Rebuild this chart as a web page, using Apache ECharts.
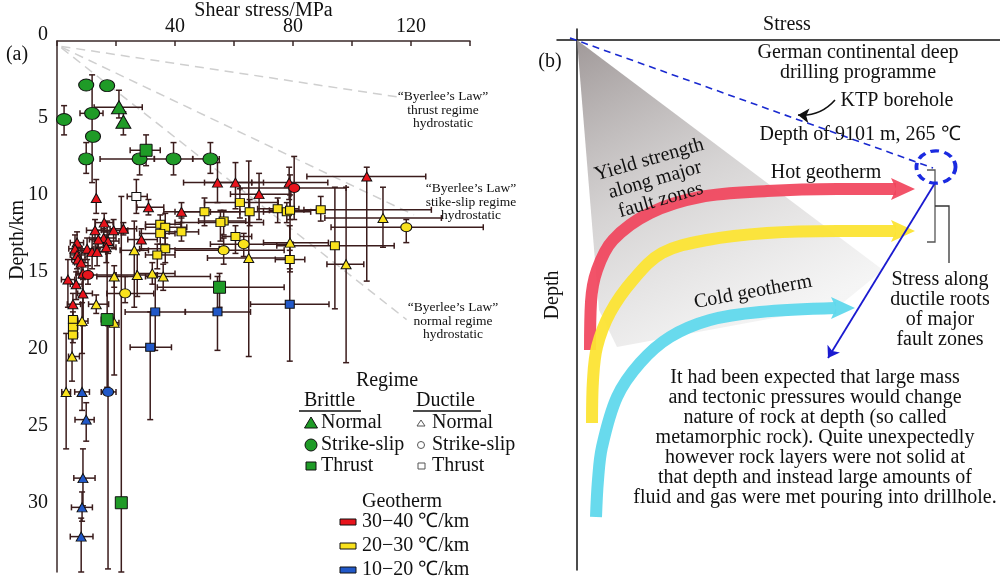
<!DOCTYPE html>
<html><head><meta charset="utf-8">
<script src="https://cdn.jsdelivr.net/npm/echarts@6/dist/echarts.min.js"></script>
<style>html,body{margin:0;padding:0;background:#fff}#c{width:1000px;height:579px}</style>
</head><body><div id="c"></div>
<script>
// ================= DATA (panel a) =================
// each row: [shear stress MPa, depth km, stressLo, stressHi, depthLo, depthHi]
const xTickLabels = [40, 80, 120];
const depthTickLabels = [5, 10, 15, 20, 25, 30];

const brittleNormal = [
  [21, 4.3, 12.6, 28.9, 3.2, 5.0],
  [22.5, 5.25, null, null, 4.6, 6.1]
];
const brittleStrikeSlip = [
  [9.9, 2.86, null, null, null, null],
  [17, 2.9, null, null, null, null],
  [2.4, 5.1, null, null, 4.2, 6.1],
  [11.9, 4.7, 7.8, 15.6, 2.2, 9.2],
  [12.2, 6.2, null, null, null, null],
  [9.9, 7.66, null, null, 6.6, 8.6],
  [28, 7.66, 14.6, 33, 7.4, 8.7],
  [39.5, 7.66, 33, 46, 6.6, 8.7],
  [52, 7.66, 46, 55, 6.6, 8.6]
];
const brittleThrust = [
  [30.2, 7.1, 24.8, 35, 6.1, 8.1],
  [55.1, 16.0, 34, 77, 15.1, 17.3],
  [17, 18.1, 15, 19, 11.7, 22.5],
  [21.8, 30.0, null, null, 10.1, 34.5]
];
const ductileNormalHot = [
  [54.4, 9.2, 42.9, 66, 7.9, 10.5], [60.5, 9.2, 50, 70, 7.9, 10.9],
  [78.7, 9.2, 66, 91.8, 8.2, 10.3], [105, 8.8, 84.7, 125, 8.2, 15.6],
  [68.5, 9.95, 58.8, 79.3, 8.6, 11.6], [13.3, 10.2, null, null, 9.0, 11.2],
  [31, 10.8, 27.1, 36.2, 10.3, 11.3], [42.2, 11.1, 36.2, 50.9, 10.5, 11.8],
  [16, 11.8, 13, 19, 11.2, 12.4], [12.9, 12.3, 10, 16, 11.6, 13],
  [19.2, 12.3, 15, 24, 11.6, 13.5], [22.5, 12.2, 18, 27, 11.8, 12.6],
  [15.8, 12.8, 12, 20, 12.2, 13.4], [14, 12.9, 11, 17, 12.3, 13.5],
  [17.3, 13, 14, 21, 12.4, 13.8], [28.6, 12.9, 24, 34, 12.2, 13.6],
  [6.8, 13.1, 4.5, 9, 12.4, 14], [16.7, 13.4, 13, 20, 12.6, 14.4],
  [10.2, 13.5, 8, 12.5, 12.8, 14.2], [11.9, 13.7, 9.5, 14.5, 12.8, 14.8],
  [13.6, 13.7, 11, 16.5, 13, 14.6], [6.1, 13.5, 4, 8.5, 12.6, 14.4],
  [6.8, 13.9, 4.5, 9.5, 13.2, 14.8], [7.1, 14.2, 5, 9.5, 13.4, 15.2],
  [8.2, 14.4, 6, 10.5, 13.6, 15.4], [8.8, 15.1, 6.5, 11, 14.2, 18.3],
  [3.7, 15.5, 1.5, 6, 14.2, 17.3], [6.5, 15.8, 4.5, 8.5, 15, 16.8],
  [8.8, 16.4, 7, 12, 15.5, 18.5], [5.4, 17.1, 3.5, 8, 16.4, 18]
];
const ductileStrikeHot = [
  [80.4, 9.55, 62, 98, 7.5, 11.6],
  [10.5, 15.2, 8, 20, 14.6, 15.8]
];
const ductileThrustWarm = [
  [62, 10.5, 50, 75, 9.6, 11.5], [50, 11.1, 40, 62, 10.2, 12],
  [65.3, 11.1, 52, 78, 10.3, 12], [74.8, 10.9, 68, 82, 10.2, 11.8],
  [77.9, 11.1, 70, 86, 10.5, 11.8], [79, 11, 72, 88, 10, 11.6],
  [89.4, 10.97, 83.7, 126.9, 10.1, 11.7], [56.5, 11.7, 48, 64, 11, 12.6],
  [55.4, 11.8, 40, 70, 11, 13], [60.5, 12.7, 56, 66, 12, 13.8],
  [94.2, 13.3, 74.5, 114.3, 9.5, 17.4], [78.9, 14.2, 74, 84, 13.6, 14.8],
  [35, 11.9, 30, 42, 11.3, 12.5], [36.7, 12.1, 30, 44, 11.2, 13.2],
  [35, 12.5, 28, 40, 12, 13.2], [42.2, 12.4, 38, 48, 11.5, 13],
  [36.7, 13.5, 28, 55, 12.8, 14.4], [34, 13.9, 30, 40, 13.2, 14.8],
  [5.4, 18.1, 4, 7, 17.6, 18.6], [5.4, 18.6, 4, 7, 18.2, 19],
  [5.4, 19.1, 4, 7, 18.6, 19.6]
];
const ductileStrikeWarm = [
  [118.4, 12.1, 92.9, 144.5, 11.6, 13.1], [56.5, 13.6, 40, 77, 12.8, 14.5],
  [63.3, 13.2, 52, 80, 12.5, 14], [23.1, 16.4, 16.9, 32.8, 15.3, 17]
];
const ductileNormalWarm = [
  [110.5, 11.5, 90.8, 130.3, 9.5, 13.4], [79, 13.1, 70, 92, 8.7, 15],
  [65, 14.1, 51, 77.6, 7.8, 20.5], [98, 14.5, 91.5, 104, 9.5, 20.9],
  [26.2, 13.6, 21.4, 31, 11.7, 17.3], [19.4, 15.3, 13.5, 27, 14.6, 16],
  [27.2, 15.2, 20, 34, 13.6, 16.6], [32.3, 15.1, 27, 40, 14.4, 15.8],
  [36, 15.3, 30, 52, 14.5, 16.2], [13.3, 17.1, 10.7, 17.5, 16.5, 17.7],
  [8.5, 18.2, 7, 10.5, 17, 20.3], [19.4, 18.3, 18, 21, 15.4, 21.7],
  [5.1, 20.5, 3.9, 7.6, 19.1, 22.1], [3.1, 22.8, 1.6, 4.6, 19, 26.5]
];
const ductileThrustCold = [
  [33.3, 17.6, 23.1, 43.5, 15.1, 20.1], [54.4, 17.6, 43.5, 65.6, 15.3, 20.1],
  [78.9, 17.1, 65.6, 92.2, 12, 20.8], [31.6, 19.9, 24.8, 38.8, 17.6, 24.6]
];
const ductileNormalCold = [
  [8.5, 22.8, 6, 11, 18.3, 24], [9.9, 24.6, 6.1, 12.6, 23.5, 26],
  [8.8, 28.4, 5.7, 12.9, 26.5, 30.2], [8.5, 30.3, 4.9, 12, 29.3, 31.2],
  [8.2, 32.2, 4.5, 12.2, 31, 34.5]
];
const ductileStrikeCold = [[17.3, 22.8, 15, 20, 18.5, 34.3]];
const ductileThrustNone = [[26.9, 10.1, 23.8, 30.6, 9.0, 11.2]];

// Byerlee's law reference lines [stress, depth]
const byerleeThrust = [[1.5, 0.35], [116, 3.65]];
const byerleeStrike = [[1.5, 0.4], [121, 11.3]];
const byerleeNormal = [[1.5, 0.45], [118.5, 18.1]];

// ================= DATA (panel b, schematic units) =================
const fanPoly = [[0, 0], [306, 230], [262, 266], [40, 307], [22, 270]];
const hotCurve = [[13, 310], [14, 262], [20, 230], [36, 200], [73, 173], [123, 157], [190, 151], [260, 149], [319, 149]];
const hotTip = [338, 149];
const warmCurve = [[15, 383], [16, 340], [20, 307], [33, 273], [56, 240], [85, 213], [130, 200], [190, 193], [260, 191], [319, 191]];
const warmTip = [338, 191];
const coldCurve = [[19, 477], [21, 440], [25, 407], [40, 357], [63, 323], [93, 297], [133, 280], [183, 272], [259, 268]];
const coldTip = [278, 268];
const ktpDashed = [[-7, -2], [356, 128]];
const ktpCircle = [359, 127];
const bracketA = [[350, 130], [358, 130], [358, 202], [350, 202]];
const bracketB = [[358, 166], [372, 166], [372, 223]];
const blueArrow = [[358, 143], [251, 318]];
const ktpArrow = [[258, 60], [221, 75]];

// ================= STYLE =================
const SERIF = '"Liberation Serif","Times New Roman",serif';
const AX = '#3a2828';
const ERR = '#3b1c1c';
const COL = { red: '#e8141c', yellow: '#f9e21c', blue: '#2158c8', green: '#1f9b27' };

const errRows = [].concat(brittleNormal, brittleStrikeSlip, brittleThrust, ductileNormalHot,
  ductileStrikeHot, ductileThrustWarm, ductileStrikeWarm, ductileNormalWarm, ductileThrustCold,
  ductileNormalCold, ductileStrikeCold, ductileThrustNone);

function renderErr(params, api) {
  const r = errRows[params.dataIndex];
  const kids = [];
  const st = { stroke: ERR, lineWidth: 1.5 };
  const cap = 3;
  if (r[2] != null) {
    const a = api.coord([r[2], r[1]]), b = api.coord([r[3], r[1]]);
    kids.push({ type: 'line', shape: { x1: a[0], y1: a[1], x2: b[0], y2: b[1] }, style: st });
    kids.push({ type: 'line', shape: { x1: a[0], y1: a[1] - cap, x2: a[0], y2: a[1] + cap }, style: st });
    kids.push({ type: 'line', shape: { x1: b[0], y1: b[1] - cap, x2: b[0], y2: b[1] + cap }, style: st });
  }
  if (r[4] != null) {
    const a = api.coord([r[0], r[4]]), b = api.coord([r[0], r[5]]);
    kids.push({ type: 'line', shape: { x1: a[0], y1: a[1], x2: b[0], y2: b[1] }, style: st });
    kids.push({ type: 'line', shape: { x1: a[0] - cap, y1: a[1], x2: a[0] + cap, y2: a[1] }, style: st });
    kids.push({ type: 'line', shape: { x1: b[0] - cap, y1: b[1], x2: b[0] + cap, y2: b[1] }, style: st });
  }
  return { type: 'group', children: kids };
}

const xy = arr => arr.map(r => [r[0], r[1]]);
function sc(arr, symbol, size, color, z) {
  return { type: 'scatter', xAxisIndex: 0, yAxisIndex: 0, data: xy(arr), symbol: symbol, symbolSize: size,
    itemStyle: { color: color, borderColor: '#111', borderWidth: 1, opacity: 1 }, z: z, silent: true };
}
function byer(d) {
  return { type: 'line', xAxisIndex: 0, yAxisIndex: 0, data: d, showSymbol: false, symbol: 'none', z: 1, silent: true,
    lineStyle: { color: '#cfcfcf', width: 1.5, type: [9, 6] } };
}
function curve(d, color) {
  return { type: 'line', xAxisIndex: 1, yAxisIndex: 1, data: d, smooth: 0.35, showSymbol: false, symbol: 'none', z: 3, silent: true,
    lineStyle: { color: color, width: 12, cap: 'butt' } };
}
function head(tip, color) {
  return { type: 'custom', xAxisIndex: 1, yAxisIndex: 1, data: [tip], z: 3, silent: true,
    renderItem: (p, api) => { const c = api.coord([api.value(0), api.value(1)]);
      return { type: 'polygon', shape: { points: [[c[0], c[1]], [c[0] - 24, c[1] - 11], [c[0] - 19, c[1]], [c[0] - 24, c[1] + 11]] }, style: { fill: color } }; } };
}
function lns(coords, color, width, arrow, curveness) {
  return { type: 'lines', coordinateSystem: 'cartesian2d', xAxisIndex: 1, yAxisIndex: 1, polyline: coords.length > 2,
    symbol: arrow ? ['none', 'arrow'] : ['none', 'none'], symbolSize: 11, z: 4, silent: true,
    lineStyle: { color: color, width: width, opacity: 1, curveness: curveness || 0 }, data: [{ coords: coords }] };
}

function txt(x, y, text, size, opts) {
  return Object.assign({ type: 'text', x: x, y: y, silent: true, z: 20,
    style: Object.assign({ text: text, font: size + 'px ' + SERIF, fill: '#111', align: 'center', verticalAlign: 'middle', lineHeight: size }, (opts && opts.style) || {}) },
    opts ? { rotation: opts.rotation || 0 } : {});
}

const chart = echarts.init(document.getElementById('c'));
const hidden = { show: false };

const graphics = [
  txt(17, 55, '(a)', 20),
  txt(43, 35, '0', 20),
  txt(18, 240, 'Depth/km', 20, { rotation: Math.PI / 2 }),
  txt(443, 110, '\u201cByerlee\u2019s Law\u201d\nthrust regime\nhydrostatic', 13.5, { style: { lineHeight: 13.5 } }),
  txt(471, 202, '\u201cByerlee\u2019s Law\u201d\nstike-slip regime\nhydrostatic', 13.5, { style: { lineHeight: 13.5 } }),
  txt(453, 321, '\u201cByerlee\u2019s Law\u201d\nnormal regime\nhydrostatic', 13.5, { style: { lineHeight: 13.5 } }),
  // legend
  txt(387, 381, 'Regime', 20),
  txt(304, 401, 'Brittle', 20, { style: { align: 'left' } }),
  txt(416, 401, 'Ductile', 20, { style: { align: 'left' } }),
  { type: 'line', shape: { x1: 299, y1: 411, x2: 361, y2: 411 }, style: { stroke: '#111', lineWidth: 1.3 }, z: 20 },
  { type: 'line', shape: { x1: 413, y1: 411, x2: 481, y2: 411 }, style: { stroke: '#111', lineWidth: 1.3 }, z: 20 },
  { type: 'polygon', shape: { points: [[311, 417], [317.5, 428], [304.5, 428]] }, style: { fill: COL.green, stroke: '#111', lineWidth: 1 }, z: 20 },
  { type: 'circle', shape: { cx: 311, cy: 445, r: 6 }, style: { fill: COL.green, stroke: '#111', lineWidth: 1 }, z: 20 },
  { type: 'rect', shape: { x: 306, y: 462, width: 10, height: 8 }, style: { fill: COL.green, stroke: '#111', lineWidth: 1 }, z: 20 },
  txt(321, 423, 'Normal', 20, { style: { align: 'left' } }),
  txt(321, 445, 'Strike-slip', 20, { style: { align: 'left' } }),
  txt(321, 466, 'Thrust', 20, { style: { align: 'left' } }),
  { type: 'polygon', shape: { points: [[421, 420], [425, 426], [417, 426]] }, style: { fill: '#fff', stroke: '#555', lineWidth: 1 }, z: 20 },
  { type: 'circle', shape: { cx: 421, cy: 445, r: 3.5 }, style: { fill: '#fff', stroke: '#555', lineWidth: 1 }, z: 20 },
  { type: 'rect', shape: { x: 418, y: 463, width: 7, height: 6 }, style: { fill: '#fff', stroke: '#555', lineWidth: 1 }, z: 20 },
  txt(432, 423, 'Normal', 20, { style: { align: 'left' } }),
  txt(432, 445, 'Strike-slip', 20, { style: { align: 'left' } }),
  txt(432, 466, 'Thrust', 20, { style: { align: 'left' } }),
  txt(402, 502, 'Geotherm', 20),
  { type: 'rect', shape: { x: 340, y: 519, width: 16, height: 6 }, style: { fill: COL.red, stroke: '#111', lineWidth: 1 }, z: 20 },
  { type: 'rect', shape: { x: 340, y: 543, width: 16, height: 6 }, style: { fill: COL.yellow, stroke: '#111', lineWidth: 1 }, z: 20 },
  { type: 'rect', shape: { x: 340, y: 567, width: 16, height: 6 }, style: { fill: COL.blue, stroke: '#111', lineWidth: 1 }, z: 20 },
  txt(362, 522, '30\u221240 \u2103/km', 20, { style: { align: 'left' } }),
  txt(362, 546, '20\u221230 \u2103/km', 20, { style: { align: 'left' } }),
  txt(362, 570, '10\u221220 \u2103/km', 20, { style: { align: 'left' } }),
  // panel b texts
  txt(787, 25, 'Stress', 20),
  txt(550, 62, '(b)', 20),
  txt(553, 295, 'Depth', 20, { rotation: Math.PI / 2 }),
  txt(858, 63, 'German continental deep\ndrilling programme', 20, { style: { lineHeight: 20 } }),
  txt(897, 101, 'KTP borehole', 20),
  txt(860, 135, 'Depth of 9101 m, 265 \u2103', 20),
  txt(826, 173, 'Hot geotherm', 20),
  txt(655, 180, 'Yield strength\nalong major\nfault zones', 20, { rotation: 16 * Math.PI / 180, style: { lineHeight: 21 } }),
  txt(753, 292, 'Cold geotherm', 20, { rotation: 10.4 * Math.PI / 180 }),
  txt(940, 310, 'Stress along\nductile roots\nof major\nfault zones', 20, { style: { lineHeight: 20 } }),
  txt(815, 438, 'It had been expected that large mass\nand tectonic pressures would change\nnature of rock at depth (so called\nmetamorphic rock). Quite unexpectedly\nhowever rock layers were not solid at\nthat depth and instead large amounts of\nfluid and gas were met pouring into drillhole.', 20, { style: { lineHeight: 20 } })
];

const option = {
  animation: false,
  backgroundColor: '#fff',
  grid: [
    { left: 57, top: 41, width: 413, height: 531, containLabel: false, outerBoundsMode: 'none' },
    { left: 557, top: 29, width: 443, height: 541, containLabel: false, outerBoundsMode: 'none' }
  ],
  xAxis: [
    { gridIndex: 0, type: 'value', position: 'top', min: 0, max: 140, interval: 20,
      axisLine: { lineStyle: { color: AX, width: 1.5 } },
      axisTick: { inside: true, length: 5, lineStyle: { color: AX, width: 1.5 } },
      axisLabel: { formatter: v => xTickLabels.indexOf(v) >= 0 ? String(v) : '', color: '#111', fontSize: 20, fontFamily: SERIF, margin: 4 },
      splitLine: hidden,
      name: 'Shear stress/MPa', nameLocation: 'middle', nameGap: 20, nameMoveOverlap: false,
      nameTextStyle: { color: '#111', fontSize: 20, fontFamily: SERIF } },
    { gridIndex: 1, type: 'value', min: -20, max: 423,
      axisLine: { onZero: true, lineStyle: { color: '#111', width: 1.5 } },
      axisTick: hidden, axisLabel: hidden, splitLine: hidden }
  ],
  yAxis: [
    { gridIndex: 0, type: 'value', inverse: true, min: 0, max: 34.5, interval: 5,
      axisLine: { lineStyle: { color: AX, width: 1.5 } },
      axisTick: hidden,
      axisLabel: { formatter: v => depthTickLabels.indexOf(v) >= 0 ? String(v) : '', color: '#111', fontSize: 20, fontFamily: SERIF, margin: 9 },
      splitLine: hidden },
    { gridIndex: 1, type: 'value', inverse: true, min: -11, max: 530,
      axisLine: { onZero: true, lineStyle: { color: '#111', width: 1.5 } },
      axisTick: hidden, axisLabel: hidden, splitLine: hidden }
  ],
  graphic: graphics,
  series: [
    byer(byerleeThrust), byer(byerleeStrike), byer(byerleeNormal),
    { type: 'custom', xAxisIndex: 0, yAxisIndex: 0, data: xy(errRows), encode: { x: 0, y: 1 }, renderItem: renderErr, z: 2, silent: true, clip: false },
    sc(ductileNormalHot, 'triangle', [10, 9], COL.red, 5),
    sc(ductileStrikeHot, 'circle', [11, 9], COL.red, 5),
    sc(ductileThrustWarm, 'rect', [9, 8], COL.yellow, 5),
    sc(ductileStrikeWarm, 'circle', [11, 9], COL.yellow, 5),
    sc(ductileNormalWarm, 'triangle', [10, 9], COL.yellow, 5),
    sc(ductileThrustCold, 'rect', [9, 8], COL.blue, 5),
    sc(ductileNormalCold, 'triangle', [10, 9], COL.blue, 5),
    sc(ductileStrikeCold, 'circle', [11, 9], COL.blue, 5),
    sc(ductileThrustNone, 'rect', [9, 8], '#fff', 5),
    sc(brittleNormal, 'triangle', [15, 13], COL.green, 6),
    sc(brittleStrikeSlip, 'circle', [15, 12], COL.green, 6),
    sc(brittleThrust, 'rect', [12, 12], COL.green, 6),
    // panel b
    { type: 'custom', xAxisIndex: 1, yAxisIndex: 1, data: [fanPoly[0]], z: 1, silent: true,
      renderItem: (p, api) => ({ type: 'polygon', shape: { points: fanPoly.map(q => api.coord(q)) },
        style: { fill: new echarts.graphic.LinearGradient(0, 0, 0.5, 1, [
          { offset: 0, color: 'rgba(150,142,142,0.9)' }, { offset: 0.5, color: 'rgba(200,197,197,0.75)' }, { offset: 1, color: 'rgba(238,238,238,0.6)' }]) } }) },
    curve(hotCurve, 'rgba(241,68,92,0.92)'), head(hotTip, 'rgba(241,68,92,0.92)'),
    curve(warmCurve, 'rgba(252,228,52,0.95)'), head(warmTip, 'rgba(252,228,52,0.95)'),
    curve(coldCurve, 'rgba(96,216,236,0.95)'), head(coldTip, 'rgba(96,216,236,0.95)'),
    { type: 'line', xAxisIndex: 1, yAxisIndex: 1, data: ktpDashed, showSymbol: false, symbol: 'none', z: 4, silent: true,
      lineStyle: { color: '#1a2ad0', width: 1.6, type: [7, 5] } },
    { type: 'custom', xAxisIndex: 1, yAxisIndex: 1, data: [ktpCircle], z: 5, silent: true,
      renderItem: (p, api) => { const c = api.coord([api.value(0), api.value(1)]);
        return { type: 'circle', x: c[0], y: c[1], scaleX: 1.15, scaleY: 0.95, shape: { cx: 0, cy: 0, r: 17 },
          style: { fill: 'rgba(0,0,0,0)', stroke: '#1a2ae0', lineWidth: 3.5, lineDash: [8, 5], strokeNoScale: true } }; } },
    lns(bracketA, '#555', 1.3, false),
    lns(bracketB, '#333', 1.3, true),
    lns(blueArrow, '#1a1ad0', 1.8, true),
    lns(ktpArrow, '#111', 1.6, true, 0.25)
  ]
};
chart.setOption(option);
</script>
</body></html>
